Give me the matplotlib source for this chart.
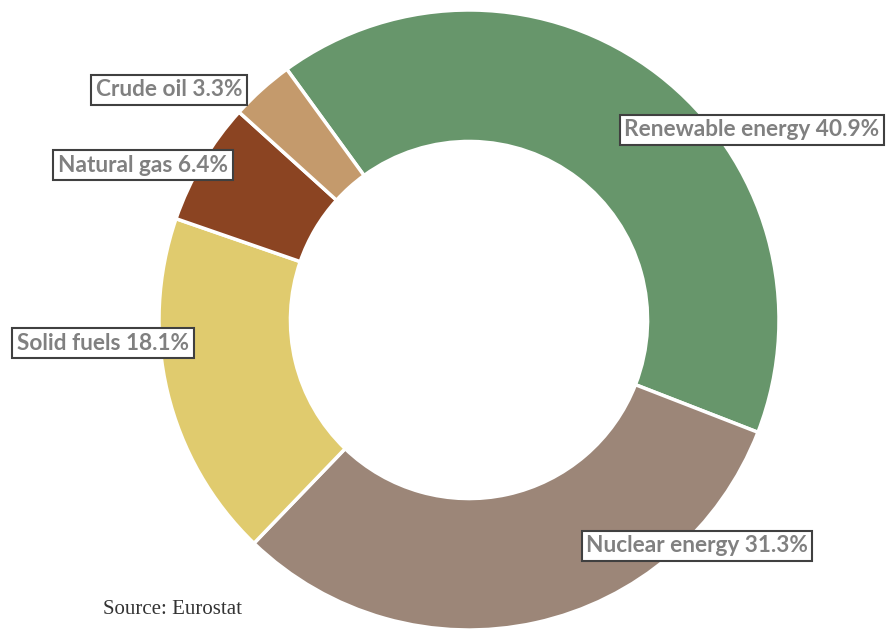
import matplotlib
matplotlib.use('Agg')
import matplotlib.pyplot as plt

# Energy production shares by source
sources = ['Renewable energy', 'Nuclear energy', 'Solid fuels', 'Natural gas', 'Crude oil']
shares = [40.9, 31.3, 18.1, 6.4, 3.3]
colors = ['#67966b', '#9c8678', '#e0cb6e', '#8b4422', '#c49a6c']

# label box centres in figure pixels (x from left, y from top)
label_pos = [(752, 130), (697, 546), (103, 343), (143, 165), (169, 90)]

W, H = 888, 629
fig = plt.figure(figsize=(W / 100, H / 100), dpi=100)
fig.patch.set_facecolor('white')

# donut centred at (469, 320) px with outer radius 310 px
cx, cy, r = 469, 320, 310
ax = fig.add_axes([(cx - r) / W, (H - cy - r) / H, 2 * r / W, 2 * r / H])
ax.pie(shares, colors=colors, startangle=126, counterclock=False, radius=1,
       wedgeprops=dict(width=0.424, edgecolor='white', linewidth=2.5))
ax.set_xlim(-1, 1)
ax.set_ylim(-1, 1)
ax.axis('off')

for name, val, (px, py) in zip(sources, shares, label_pos):
    fig.text(px / W, 1 - py / H, f'{name} {val}%', ha='center', va='center',
             fontsize=16.3, fontweight='bold', family='Lato', color='#808080',
             bbox=dict(boxstyle='square,pad=0.2', facecolor='white',
                       edgecolor='#404040', linewidth=1.5))

fig.text(103 / W, 1 - 610 / H, 'Source: Eurostat', ha='left', va='center',
         fontsize=15, family='Liberation Serif', color='#333333')

fig.savefig('out.png', dpi=100)
